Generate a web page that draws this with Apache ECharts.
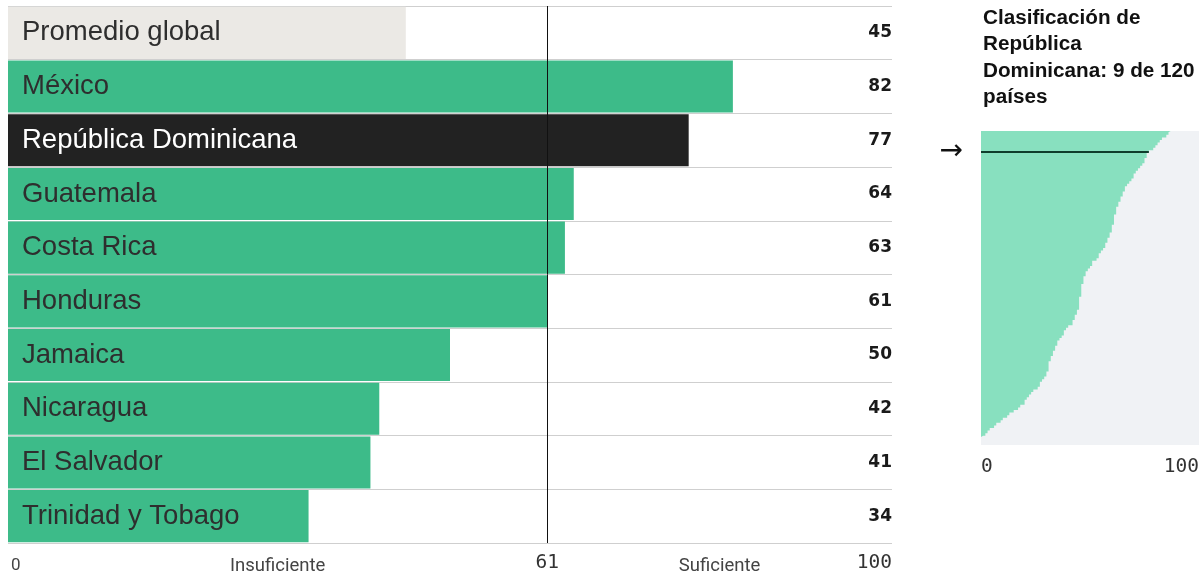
<!DOCTYPE html>
<html>
<head>
<meta charset="utf-8">
<script src="https://cdn.jsdelivr.net/npm/echarts@6/dist/echarts.min.js"></script>
<style>
html,body{margin:0;padding:0;background:#fff;}
#c{width:1204px;height:576px;}
</style>
</head>
<body>
<div id="c"></div>
<script>
// ---- data ----
const categories = ['Promedio global','México','República Dominicana','Guatemala','Costa Rica','Honduras','Jamaica','Nicaragua','El Salvador','Trinidad y Tobago'];
const scores = [45, 82, 77, 64, 63, 61, 50, 42, 41, 34];
const threshold = 61;
const axisMarks = [0, 30.5, 61, 80.5, 100];
const axisMarkLabels = ['0', 'Insuficiente', '61', 'Suficiente', '100'];
const panelTitle = 'Clasificación de\nRepública\nDominicana: 9 de 120\npaíses';
const rdRank = 9;
const ranks = Array.from({length: 120}, (_, i) => String(i + 1));
const distribution = [
  87,86,85,83,82,81,80,79,77,76,
  76,75,75,74,73,72,71,70,70,69,
  68,67,66,66,65,65,64,64,63,63,
  62,62,62,61,61,61,61,60,60,60,
  59,59,58,58,57,57,56,55,54,54,
  53,51,51,50,49,48,48,47,47,47,
  46,46,46,46,46,45,45,45,45,45,
  44,44,43,43,42,42,40,39,38,38,
  37,36,35,35,34,34,33,33,32,32,
  31,31,31,31,30,30,29,28,27,27,
  26,24,23,22,21,20,20,18,17,15,
  13,12,10,9,7,6,4,3,2,1
];

// ---- styles ----
const GREEN = '#3dbb89';
const MINT = '#88e0bf';
const barColors = categories.map((c, i) => i === 0 ? '#ebe9e5' : (i === 2 ? '#222222' : GREEN));
const labelColors = categories.map((c, i) => i === 2 ? '#ffffff' : '#2e2e2e');

const chart = echarts.init(document.getElementById('c'), null, {renderer: 'canvas'});

const option = {
  animation: false,
  backgroundColor: '#ffffff',
  title: {
    text: panelTitle,
    left: 983, top: 5, padding: 0,
    textStyle: {fontFamily: 'Liberation Sans, Arial, sans-serif', fontSize: 20.7, fontWeight: 'bold', color: '#111', lineHeight: 26.5}
  },
  graphic: [{
    type: 'rect', z: 0, silent: true,
    shape: {x: 981, y: 131, width: 218, height: 314},
    style: {fill: '#f0f2f5'}
  }],
  grid: [
    {left: 8, top: 6, width: 884, height: 538},
    {left: 981, top: 131, width: 218, height: 306}
  ],
  xAxis: [
    {
      gridIndex: 0, type: 'value', min: 0, max: 100,
      splitLine: {show: false}, axisLine: {show: false}, axisTick: {show: false},
      axisLabel: {
        customValues: axisMarks,
        alignMinLabel: 'left', alignMaxLabel: 'right',
        margin: 10,
        formatter: function (v) {
          const i = axisMarks.indexOf(v);
          const t = i >= 0 ? axisMarkLabels[i] : '';
          if (t === 'Insuficiente' || t === 'Suficiente') return '{s|' + t + '}';
          if (t === '0') return '{z|' + t + '}';
          return '{m|' + t + '}';
        },
        rich: {
          s: {fontFamily: 'Roboto, Liberation Sans, sans-serif', fontSize: 18.5, color: '#444', padding: [4, 0, 0, 0]},
          z: {fontFamily: 'Roboto, Liberation Sans, sans-serif', fontSize: 17, color: '#444', padding: [4, 0, 0, 3]},
          m: {fontFamily: 'DejaVu Sans Mono, monospace', fontSize: 19.5, color: '#333'}
        }
      }
    },
    {
      gridIndex: 1, type: 'value', min: 0, max: 100, interval: 100,
      splitLine: {show: false}, axisLine: {show: false}, axisTick: {show: false},
      axisLabel: {
        alignMinLabel: 'left', alignMaxLabel: 'right', margin: 20,
        fontFamily: 'DejaVu Sans Mono, monospace', fontSize: 19.5, color: '#333'
      }
    }
  ],
  yAxis: [
    {
      gridIndex: 0, type: 'category', data: categories, inverse: true,
      axisLine: {show: false}, axisTick: {show: false}, axisLabel: {show: false},
      splitLine: {show: true, interval: 0, lineStyle: {color: '#cfcfcf', width: 1}}
    },
    {
      gridIndex: 0, type: 'category', data: scores.map(String), inverse: true, position: 'right',
      axisLine: {show: false}, axisTick: {show: false},
      axisLabel: {inside: true, margin: 0, fontFamily: 'DejaVu Sans, sans-serif', fontSize: 17, fontWeight: 'bold', color: '#1a1a1a'}
    },
    {
      gridIndex: 1, type: 'category', data: ranks, inverse: true, boundaryGap: false,
      axisLine: {show: false}, axisTick: {show: false}, splitLine: {show: false},
      axisLabel: {
        interval: 0, margin: 18, fontSize: 28, color: '#111', fontFamily: 'DejaVu Sans, sans-serif',
        formatter: function (v) { return v === String(rdRank) ? '→' : ''; }
      }
    }
  ],
  series: [
    {
      type: 'bar', xAxisIndex: 0, yAxisIndex: 0, z: 3,
      barCategoryGap: '3%',
      data: scores.map((v, i) => ({
        value: v,
        itemStyle: {color: barColors[i]},
        label: {color: labelColors[i]}
      })),
      label: {
        show: true, position: 'insideLeft', distance: 14, formatter: '{b}',
        fontFamily: 'Liberation Sans, Arial, sans-serif', fontSize: 27.5
      },
      markLine: {
        silent: true, symbol: 'none', z: 10,
        label: {show: false},
        lineStyle: {color: '#111', width: 1, type: 'solid'},
        data: [{xAxis: threshold}]
      }
    },
    {
      type: 'line', xAxisIndex: 1, yAxisIndex: 2, z: 3,
      step: 'middle', symbol: 'none', silent: true,
      lineStyle: {width: 0, color: MINT},
      itemStyle: {color: MINT},
      areaStyle: {color: MINT, opacity: 1},
      data: distribution,
      markLine: {
        silent: true, symbol: 'none', z: 10,
        label: {show: false},
        lineStyle: {color: '#0f3d2c', width: 2, type: 'solid'},
        data: [[{coord: [0, String(rdRank)]}, {coord: [scores[2], String(rdRank)]}]]
      }
    }
  ]
};
chart.setOption(option);
</script>
</body>
</html>
